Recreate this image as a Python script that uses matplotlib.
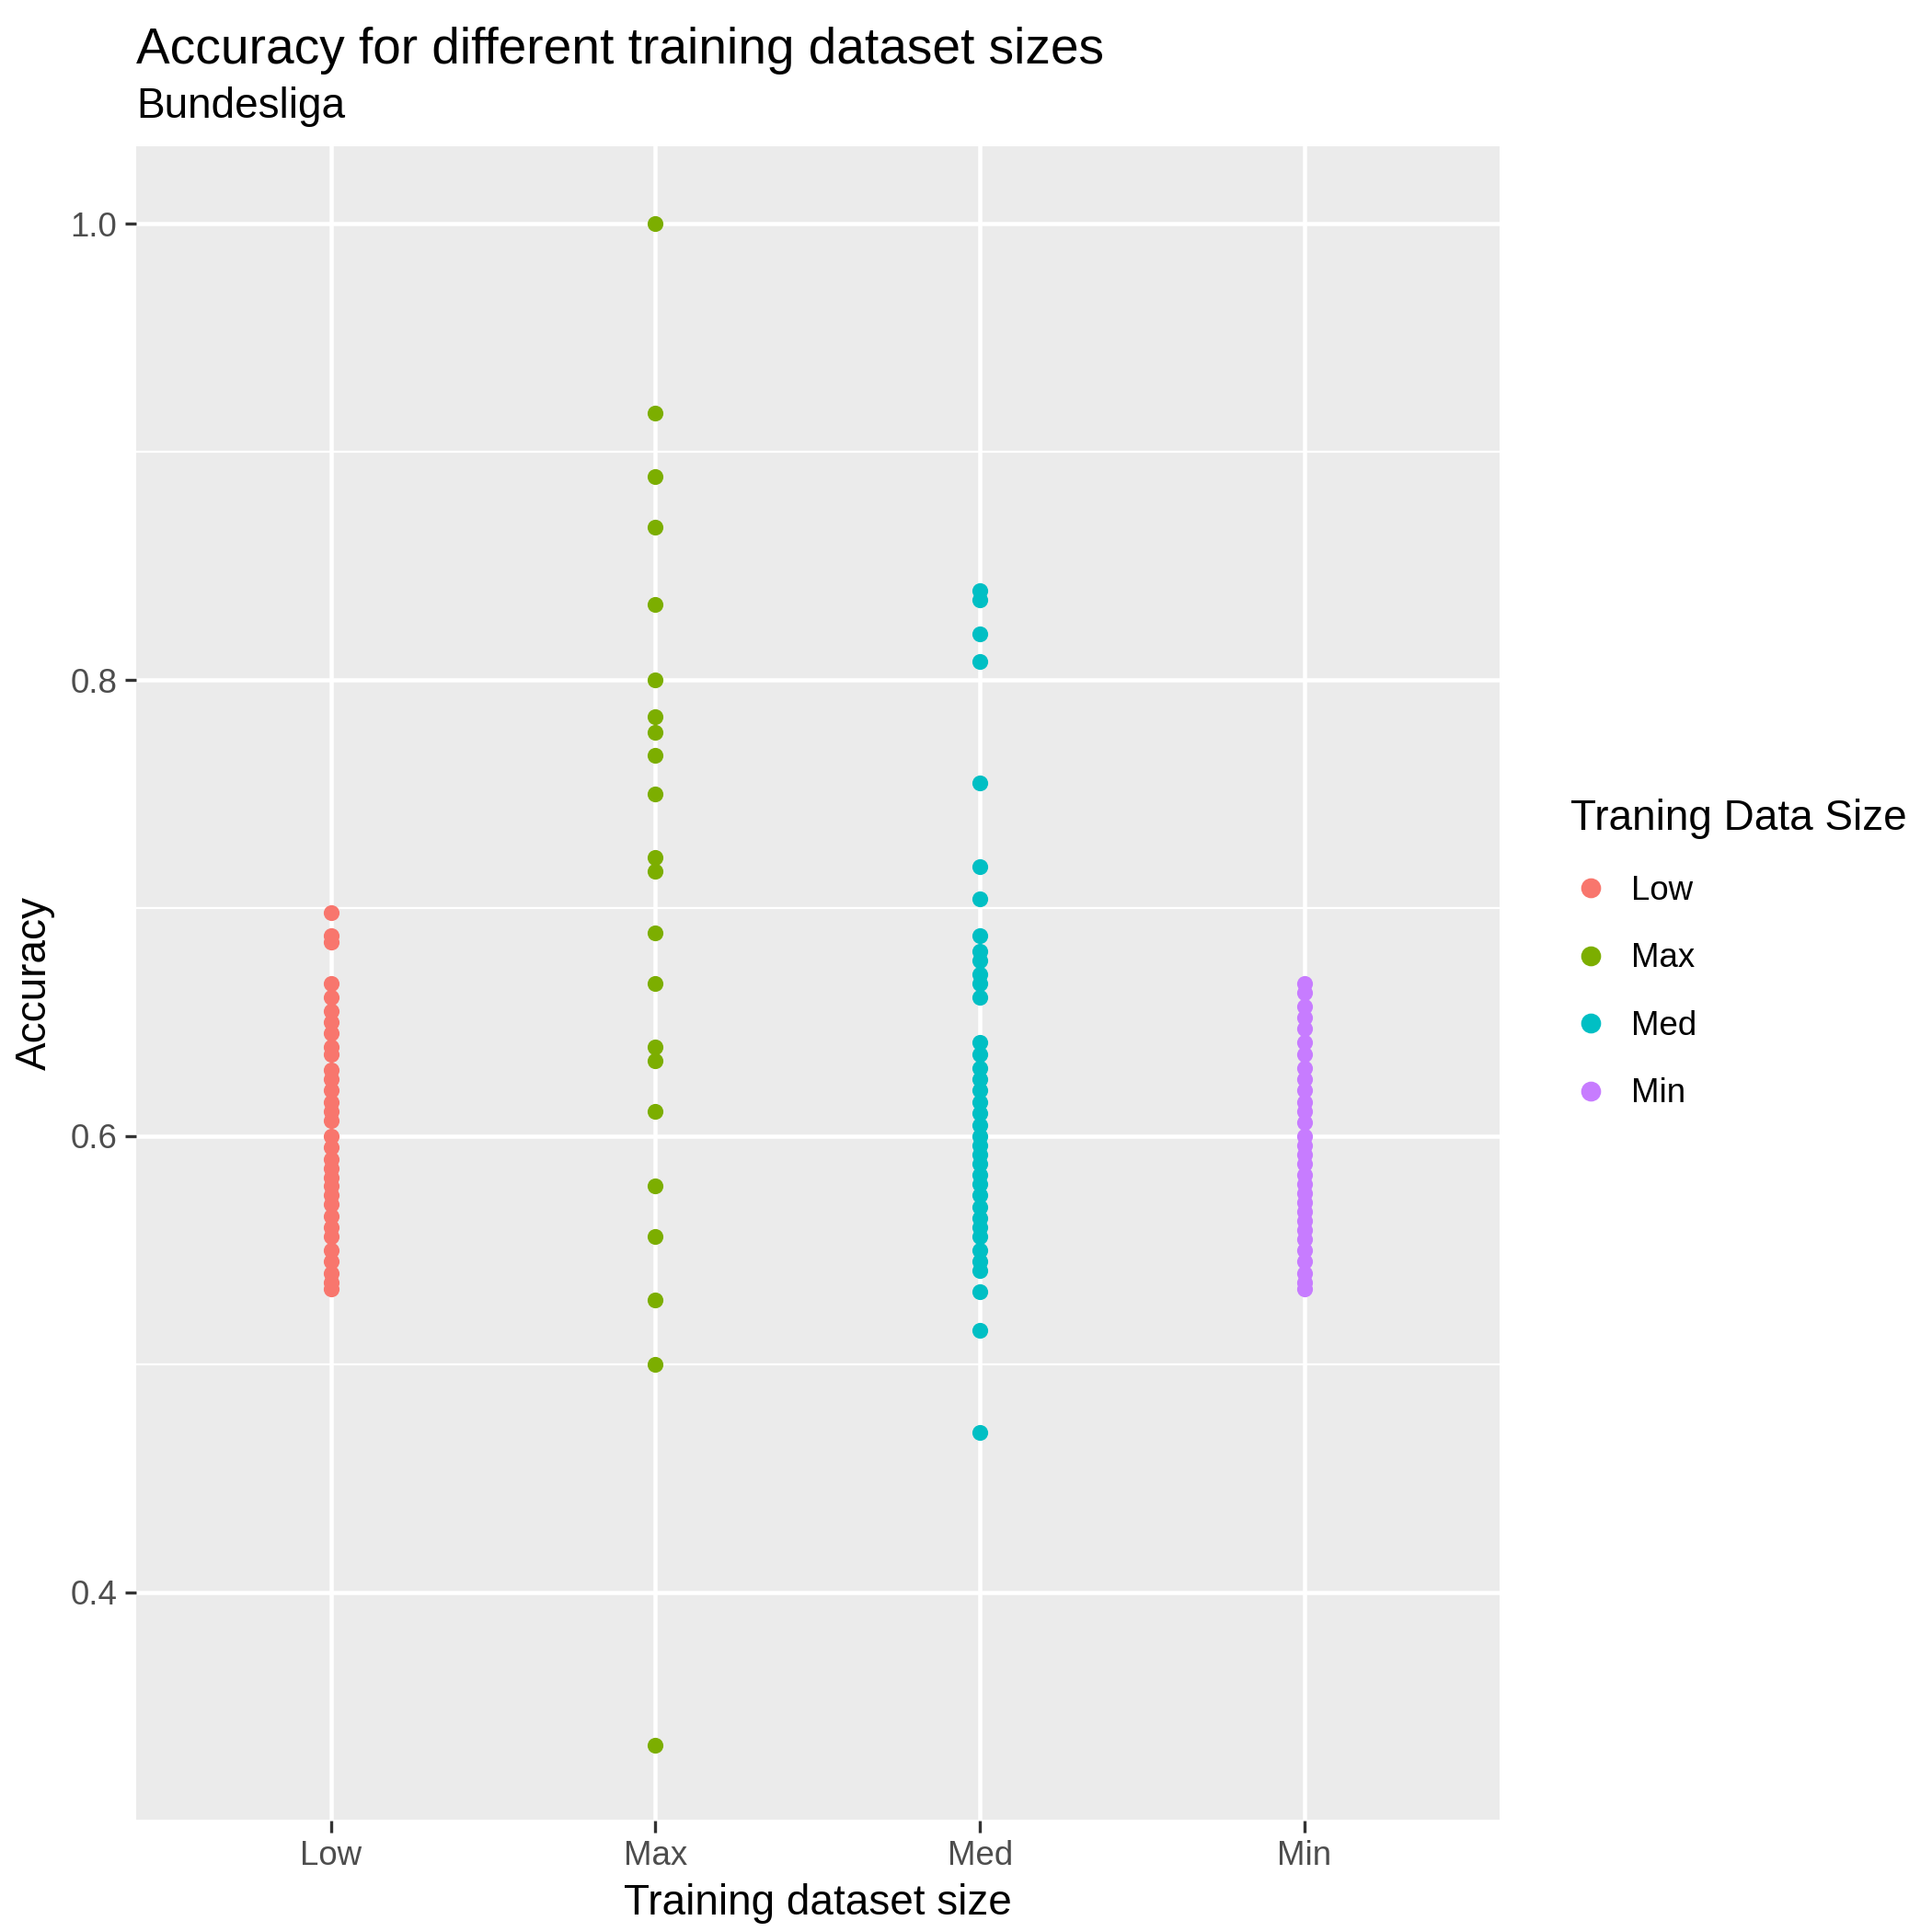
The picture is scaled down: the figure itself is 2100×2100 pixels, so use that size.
import matplotlib
matplotlib.use("Agg")
import matplotlib.pyplot as plt
from matplotlib.lines import Line2D

plt.rcParams['font.family'] = ['Liberation Sans', 'DejaVu Sans']

categories = ["Low", "Max", "Med", "Min"]
colors = ["#F8766D", "#7CAE00", "#00BFC4", "#C77CFF"]

low = [0.698, 0.688, 0.685, 0.667, 0.661, 0.655, 0.650, 0.645, 0.639, 0.636, 0.629,
       0.625, 0.620, 0.615, 0.611, 0.607, 0.600, 0.595, 0.590, 0.586, 0.582, 0.578,
       0.574, 0.570, 0.565, 0.560, 0.556, 0.550, 0.545, 0.540, 0.536, 0.533]
maxv = [1.0, 0.917, 0.889, 0.867, 0.833, 0.8, 0.784, 0.777, 0.767, 0.75, 0.722,
        0.716, 0.689, 0.667, 0.639, 0.633, 0.611, 0.578, 0.556, 0.528, 0.5, 0.333]
med = [0.839, 0.835, 0.820, 0.808, 0.755, 0.718, 0.704, 0.688, 0.681, 0.677, 0.671,
       0.667, 0.661, 0.641, 0.636, 0.630, 0.625, 0.620, 0.615, 0.610, 0.605, 0.600,
       0.596, 0.592, 0.588, 0.583, 0.579, 0.574, 0.569, 0.564, 0.560, 0.556, 0.550,
       0.545, 0.541, 0.532, 0.515, 0.470]
minv = [0.667, 0.663, 0.657, 0.652, 0.647, 0.641, 0.636, 0.630, 0.625, 0.620, 0.615,
        0.611, 0.606, 0.600, 0.596, 0.592, 0.588, 0.583, 0.579, 0.575, 0.571, 0.567,
        0.563, 0.559, 0.555, 0.550, 0.545, 0.540, 0.536, 0.533]
series = [low, maxv, med, minv]

fig = plt.figure(figsize=(7, 7), dpi=300)
ax = fig.add_axes([0.0705, 0.0577, 0.7055, 0.8667])
ax.set_facecolor("#EBEBEB")
for s in ax.spines.values():
    s.set_visible(False)

for i, (vals, c) in enumerate(zip(series, colors)):
    ax.scatter([i] * len(vals), vals, s=17, color=c, linewidths=0, zorder=3)

ax.set_xlim(-0.6, 3.6)
ax.set_ylim(0.300, 1.034)
ax.set_xticks(range(4))
ax.set_xticklabels(categories)
ax.set_yticks([0.4, 0.6, 0.8, 1.0])
ax.set_yticklabels(["0.4", "0.6", "0.8", "1.0"])
ax.set_yticks([0.3, 0.5, 0.7, 0.9], minor=True)
ax.grid(True, which="major", color="white", linewidth=1.1, zorder=0)
ax.grid(True, which="minor", axis="y", color="white", linewidth=0.55, zorder=0)
ax.set_axisbelow(True)
ax.tick_params(which="major", length=3, width=0.8, color="#333333",
               labelsize=8.8, labelcolor="#4D4D4D", pad=2)
ax.tick_params(which="minor", length=0)
ax.set_xlabel("Training dataset size", fontsize=11, labelpad=3)
ax.set_ylabel("Accuracy", fontsize=11, labelpad=4)

fig.text(0.0705, 0.967, "Accuracy for different training dataset sizes", fontsize=13.2, va="baseline")
fig.text(0.0705, 0.939, "Bundesliga", fontsize=11, va="baseline")

handles = [Line2D([], [], marker="o", linestyle="", color=c, markersize=4.2) for c in colors]
leg = fig.legend(handles, categories, title="Traning Data Size", loc="center left",
                 bbox_to_anchor=(0.797, 0.506), frameon=False, fontsize=8.8,
                 title_fontsize=11, handletextpad=0.6, labelspacing=1.05,
                 handlelength=1.2)
leg._legend_box.align = "left"

fig.savefig("out.png", dpi=300, facecolor="white")
